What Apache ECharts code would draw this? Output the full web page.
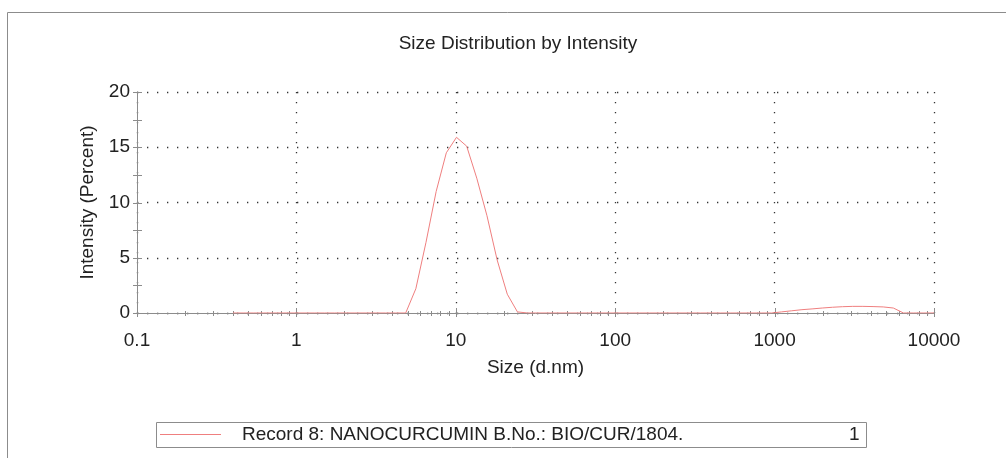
<!DOCTYPE html>
<html>
<head>
<meta charset="utf-8">
<title>Size Distribution by Intensity</title>
<script src="https://cdn.jsdelivr.net/npm/echarts@6/dist/echarts.min.js"></script>
<style>
  html, body { margin: 0; padding: 0; background: #fff; }
  #chart { width: 1006px; height: 458px; }
</style>
</head>
<body>
<div id="chart"></div>
<script>
// size classes (d.nm) and intensity (%)
const sizes = [
  0.4, 0.4632, 0.5365, 0.6213, 0.7195, 0.8332, 0.9649, 1.117, 1.294, 1.499,
  1.736, 2.010, 2.328, 2.696, 3.122, 3.615, 4.187, 4.849, 5.615, 6.503,
  7.531, 8.721, 10.10, 11.70, 13.54, 15.69, 18.17, 21.04, 24.36, 28.21,
  32.67, 37.84, 43.82, 50.75, 58.77, 68.06, 78.82, 91.28, 105.7, 122.4,
  141.8, 164.2, 190.1, 220.2, 255.0, 295.3, 342.0, 396.1, 458.7, 531.2,
  615.1, 712.4, 825.0, 955.4, 1106, 1281, 1484, 1718, 1990, 2305,
  2669, 3091, 3580, 4145, 4801, 5560, 6439, 7456, 8635, 10000
];
const intensity = [
  0, 0, 0, 0, 0, 0, 0, 0, 0, 0,
  0, 0, 0, 0, 0, 0, 0, 0, 2.2, 6.4,
  11.0, 14.5, 15.9, 15.1, 12.2, 8.8, 4.8, 1.7, 0.1, 0,
  0, 0, 0, 0, 0, 0, 0, 0, 0, 0,
  0, 0, 0, 0, 0, 0, 0, 0, 0, 0,
  0, 0, 0, 0, 0.1, 0.2, 0.3, 0.37, 0.45, 0.52,
  0.57, 0.6, 0.6, 0.58, 0.55, 0.45, 0, 0, 0, 0
];

const seriesName = 'Record 8: NANOCURCUMIN B.No.: BIO/CUR/1804.';
const recordNo = '1';

const xDecades = [0.1, 1, 10, 100, 1000, 10000];
const xLabels = ['0.1', '1', '10', '100', '1000', '10000'];
const xMinorSteps = [2, 3, 4, 5, 6, 7, 8, 9];
const yMajorTicks = [0, 5, 10, 15, 20];
const yMinorTicks = [2.5, 7.5, 12.5, 17.5];

const xMinorTicks = [];
xDecades.slice(0, -1).forEach(d => {
  xMinorSteps.forEach(m => xMinorTicks.push(+(d * m).toPrecision(3)));
});

const fontFamily = '"Liberation Sans", Arial, Helvetica, sans-serif';
const axisGray = '#8c8c8c';
const lineColor = '#ef7f7f';

// tick marks across the axis line (both sides), placed with the axis scales
function xTick (up, down) {
  return function (params, api) {
    const p = api.coord([api.value(0), 0]);
    const x = Math.round(p[0]) + 0.5;
    return {
      type: 'line',
      shape: { x1: x, y1: p[1] - up, x2: x, y2: p[1] + down },
      style: { stroke: axisGray, lineWidth: 1 }
    };
  };
}
function yTick (left, right) {
  return function (params, api) {
    const p = api.coord([0.1, api.value(1)]);
    const y = Math.round(p[1]) + 0.5;
    return {
      type: 'line',
      shape: { x1: p[0] - left, y1: y, x2: p[0] + right, y2: y },
      style: { stroke: axisGray, lineWidth: 1 }
    };
  };
}

const myChart = echarts.init(document.getElementById('chart'));

const option = {
  animation: false,
  textStyle: { fontFamily: fontFamily },
  title: {
    text: 'Size Distribution by Intensity',
    left: 513,
    top: 29,
    textAlign: 'center',
    textStyle: { fontSize: 19, fontWeight: 'normal', color: '#222', fontFamily: fontFamily }
  },
  legend: {
    data: [{ name: seriesName, icon: 'rect' }],
    left: 160,
    top: 425,
    padding: 0,
    itemWidth: 61,
    itemHeight: 1,
    selectedMode: false,
    textStyle: { fontSize: 19, color: '#222', padding: [0, 0, 0, 16], fontFamily: fontFamily }
  },
  grid: { left: 137, right: 72, top: 92, height: 221 },
  xAxis: {
    type: 'log',
    logBase: 10,
    min: 0.1,
    max: 10000,
    name: 'Size (d.nm)',
    nameLocation: 'middle',
    nameGap: 45,
    nameTextStyle: { fontSize: 19, color: '#222' },
    axisLine: { show: true, lineStyle: { color: axisGray, width: 1 } },
    axisTick: { show: false },
    axisLabel: {
      fontSize: 19,
      color: '#222',
      margin: 18,
      formatter: function (v) {
        const i = xDecades.findIndex(d => Math.abs(Math.log10(d) - Math.log10(v)) < 1e-6);
        return i >= 0 ? xLabels[i] : '';
      }
    },
    splitLine: {
      show: true,
      lineStyle: { color: '#333', width: 1.3, type: [1.3, 8.7] }
    }
  },
  yAxis: {
    type: 'value',
    min: 0,
    max: 20,
    interval: 5,
    name: 'Intensity (Percent)',
    nameLocation: 'middle',
    nameGap: 40,
    nameTextStyle: { fontSize: 19, color: '#222' },
    axisLine: { show: true, lineStyle: { color: axisGray, width: 1 } },
    axisTick: { show: false },
    axisLabel: { fontSize: 19, color: '#222', margin: 7 },
    splitLine: {
      show: true,
      lineStyle: { color: '#333', width: 1.3, type: [1.3, 8.7] }
    }
  },
  graphic: [
    {
      type: 'rect',
      shape: { x: 7.5, y: 12.5, width: 1100, height: 500 },
      style: { fill: 'none', stroke: axisGray, lineWidth: 1 },
      silent: true
    },
    {
      type: 'rect',
      shape: { x: 156.5, y: 422.5, width: 710, height: 25 },
      style: { fill: 'none', stroke: axisGray, lineWidth: 1 },
      silent: true,
      z: 1
    },
    {
      type: 'text',
      left: 849,
      top: 425,
      style: { text: recordNo, fontSize: 19, fill: '#222', fontFamily: fontFamily },
      silent: true
    }
  ],
  series: [
    {
      name: seriesName,
      type: 'line',
      data: sizes.map((s, i) => [s, intensity[i]]),
      symbol: 'none',
      smooth: false,
      lineStyle: { color: lineColor, width: 1 },
      itemStyle: { color: lineColor },
      z: 5
    },
    {
      type: 'custom',
      data: xDecades.map(v => [v, 0]),
      renderItem: xTick(5, 4),
      clip: false,
      silent: true,
      z: 4
    },
    {
      type: 'custom',
      data: xMinorTicks.map(v => [v, 0]),
      renderItem: xTick(2, 3),
      clip: false,
      silent: true,
      z: 4
    },
    {
      type: 'custom',
      data: yMajorTicks.concat(yMinorTicks).map(v => [0.1, v]),
      renderItem: yTick(4, 5),
      clip: false,
      silent: true,
      z: 4
    }
  ]
};

myChart.setOption(option);
</script>
</body>
</html>
